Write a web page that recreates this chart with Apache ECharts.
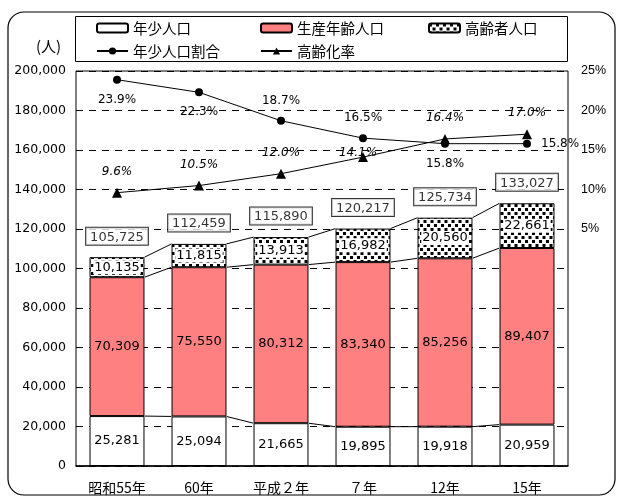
<!DOCTYPE html>
<html><head><meta charset="utf-8">
<script src="https://cdn.jsdelivr.net/npm/echarts@6/dist/echarts.min.js"></script>
<style>html,body{margin:0;padding:0;background:#fff}#c{width:619px;height:497px}</style>
</head><body><div id="c"></div>
<script>
const categories = ['昭和55年','60年','平成２年','７年','12年','15年'];
const young = [25281,25094,21665,19895,19918,20959];
const working = [70309,75550,80312,83340,85256,89407];
const elderly = [10135,11815,13913,16982,20560,22661];
const totals = [105725,112459,115890,120217,125734,133027];
const youngRatio = [23.9,22.3,18.7,16.5,15.8,15.8];
const agingRate = [9.6,10.5,12.0,14.1,16.4,17.0];
const youngRatioLabelPos = ['bottom','bottom','top','top','bottom','right'];
const agingLabelPos = ['top','top','top','inside','top','top'];
const agingLabelOffset = [[0,0],[0,0],[0,0],[-5,-4],[0,0],[0,0]];

const NUM = 'DejaVu Sans';
const JP = '"Noto Sans CJK JP", sans-serif';
const fmt = v => Number(v).toLocaleString('en-US');

const pc = document.createElement('canvas');
pc.width = 7; pc.height = 8;
const g = pc.getContext('2d');
g.fillStyle = '#fff'; g.fillRect(0,0,7,8);
g.fillStyle = '#000'; g.fillRect(0,0,3,3); g.fillRect(3.5,4,3,3);
const pattern = {image: pc, repeat: 'repeat'};

const barFrac = 0.67;
const chart = echarts.init(document.getElementById('c'), null, {renderer:'canvas'});

const legendBase = {orient:'horizontal', padding:0, itemWidth:31, itemHeight:9, itemGap:0,
  textStyle:{fontFamily:JP, fontSize:14.5, color:'#000', lineHeight:18}, selectedMode:false};

chart.setOption({
  animation:false,
  textStyle:{fontFamily:JP},
  graphic:[
    {type:'rect', shape:{x:8, y:12, width:607, height:483, r:16}, style:{fill:'none', stroke:'#000', lineWidth:1.2}, z:-10},
    {type:'rect', shape:{x:75.5, y:16.5, width:492, height:45}, style:{fill:'none', stroke:'#000', lineWidth:1}, z:-10},
    {type:'text', left:36, top:39, style:{text:'(人)', font:'15px "Noto Sans CJK JP"', fill:'#000'}}
  ],
  legend:[
    Object.assign({}, legendBase, {left:96, top:19, data:['年少人口']}),
    Object.assign({}, legendBase, {left:260, top:19, data:['生産年齢人口']}),
    Object.assign({}, legendBase, {left:428, top:19, data:['高齢者人口']}),
    Object.assign({}, legendBase, {left:96, top:42, data:['年少人口割合']}),
    Object.assign({}, legendBase, {left:260, top:42, data:['高齢化率']})
  ],
  grid:{left:76, right:51, top:71, bottom:31, show:true, borderColor:'#000', borderWidth:1, backgroundColor:'transparent'},
  xAxis:{type:'category', data:categories,
    axisLine:{lineStyle:{color:'#000', width:1.5}},
    axisTick:{inside:true, length:5, lineStyle:{color:'#000'}},
    axisLabel:{color:'#000', fontFamily:JP, fontSize:14, margin:15}},
  yAxis:[
    {type:'value', min:0, max:200000, interval:20000,
      axisLine:{show:false}, axisTick:{show:false},
      axisLabel:{color:'#000', fontFamily:NUM, fontSize:12.5, margin:10, formatter:fmt},
      splitLine:{lineStyle:{color:'#000', type:[7,6], width:1}}},
    {type:'value', min:-25, max:25, interval:5, position:'right',
      axisLine:{show:false}, axisTick:{show:false}, splitLine:{show:false},
      axisLabel:{color:'#000', fontFamily:'Liberation Sans', fontSize:12.5, margin:13,
        formatter: v => v > 0 ? v + '%' : ''}}
  ],
  series:[
    {name:'年少人口', type:'bar', stack:'p', data:young, barWidth:(barFrac*100)+'%',
      itemStyle:{color:'#fff', borderColor:'#000', borderWidth:1},
      label:{show:true, position:'inside', color:'#000', fontFamily:NUM, fontSize:13, formatter:p=>fmt(p.value)}},
    {name:'生産年齢人口', type:'bar', stack:'p', data:working,
      itemStyle:{color:'#ff8080', borderColor:'#000', borderWidth:1},
      label:{show:true, position:'inside', color:'#000', fontFamily:NUM, fontSize:13, formatter:p=>fmt(p.value)}},
    {name:'高齢者人口', type:'bar', stack:'p', data:elderly,
      itemStyle:{color:pattern, borderColor:'#000', borderWidth:1},
      label:{show:true, position:'inside', color:'#000', fontFamily:NUM, fontSize:13,
        backgroundColor:'#fff', padding:[1,1,0,1], formatter:p=>fmt(p.value)}},
    {name:'総数', type:'scatter', data:totals, symbolSize:1, itemStyle:{color:'rgba(0,0,0,0)'},
      label:{show:true, position:'top', distance:12, color:'#000', fontFamily:NUM, fontSize:13,
        backgroundColor:'#fff', borderColor:'#000', borderWidth:1, padding:[3,4,1,4], formatter:p=>fmt(p.value)}, z:5},
    {name:'seriesLines', type:'custom', data:categories.slice(0,-1).map((c,i)=>[i,0]),
      encode:{x:0, y:1}, z:4, silent:true,
      renderItem:(params, api) => {
        const i = api.value(0);
        const half = api.size([1,0])[0] * barFrac / 2;
        const lv = [young, young.map((v,k)=>v+working[k]), totals];
        return {type:'group', children: lv.map(arr => {
          const a = api.coord([i, arr[i]]), b = api.coord([i+1, arr[i+1]]);
          return {type:'line', shape:{x1:a[0]+half, y1:a[1], x2:b[0]-half, y2:b[1]}, style:{stroke:'#000', lineWidth:1}};
        })};
      }},
    {name:'年少人口割合', type:'line', yAxisIndex:1, symbol:'circle', symbolSize:8,
      lineStyle:{color:'#000', width:1}, itemStyle:{color:'#000'}, z:6,
      data: youngRatio.map((v,i)=>({value:v, label:{position:youngRatioLabelPos[i]}})),
      label:{show:true, distance:10, color:'#000', fontFamily:NUM, fontSize:12, formatter:p=>p.value.toFixed(1)+'%'}},
    {name:'高齢化率', type:'line', yAxisIndex:1, symbol:'triangle', symbolSize:10,
      lineStyle:{color:'#000', width:1}, itemStyle:{color:'#000'}, z:6,
      data: agingRate.map((v,i)=>({value:v, label:{position:agingLabelPos[i], offset:agingLabelOffset[i]}})),
      label:{show:true, distance:10, color:'#000', fontFamily:NUM, fontStyle:'italic', fontSize:12, formatter:p=>p.value.toFixed(1)+'%'}}
  ]
});
</script></body></html>
